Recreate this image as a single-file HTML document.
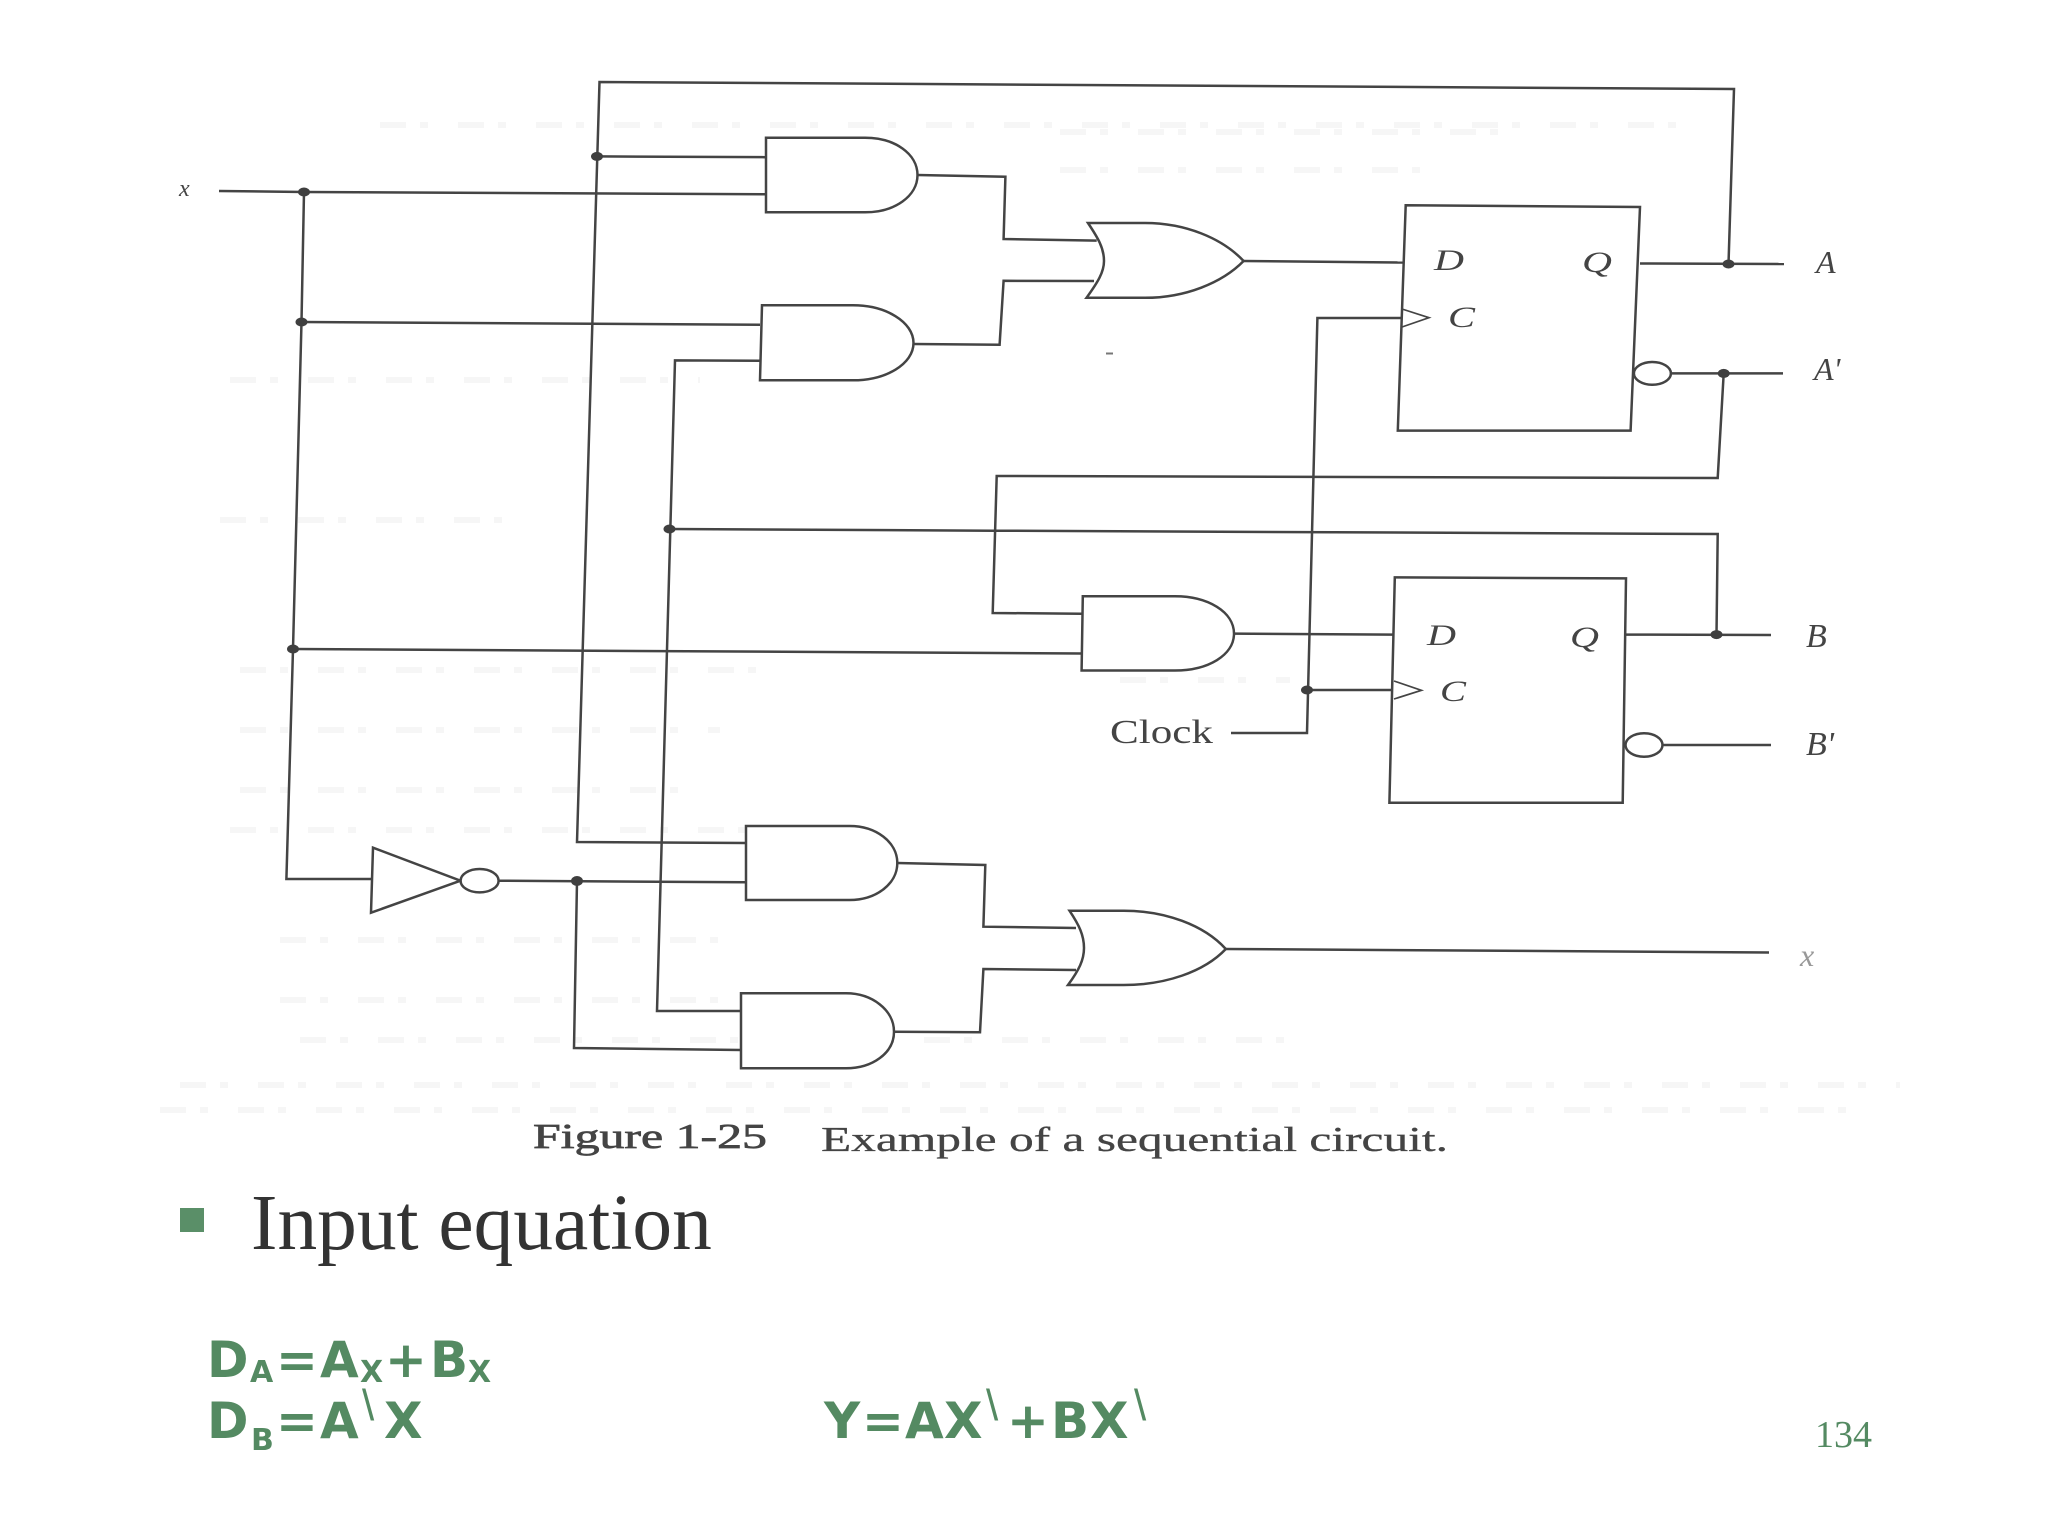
<!DOCTYPE html>
<html>
<head>
<meta charset="utf-8">
<style>
html,body{margin:0;padding:0;background:#fff;width:2048px;height:1536px;overflow:hidden}
svg{display:block}
.w{fill:none;stroke:#444;stroke-width:2.5;stroke-linejoin:miter}
.g{fill:#fff;stroke:#444;stroke-width:2.5;stroke-linejoin:miter}
.d{fill:#3f3f3f;stroke:none}
.s{fill:none;stroke:#f6f6f6;stroke-width:6;stroke-dasharray:26 14 8 30}
.l{font-family:"Liberation Serif",serif;font-style:italic;font-size:30px;fill:#444}
.c{font-family:"Liberation Serif",serif}
.e{font-family:"DejaVu Sans",sans-serif;font-weight:bold;font-size:50px;fill:#548a62}
.b{font-family:"DejaVu Sans",sans-serif;font-weight:bold;font-size:30px;fill:#548a62}
.k{font-family:"Liberation Sans",sans-serif;font-size:44px;fill:#548a62}
</style>
</head>
<body>
<svg width="2048" height="1536" viewBox="0 0 2048 1536" xmlns="http://www.w3.org/2000/svg">
<rect width="2048" height="1536" fill="#fff"/>
<!-- faint show-through -->
<path class="s" d="M380 125H1700M1060 132H1500M1060 170H1420M230 380H700M220 520H520M240 670H760M240 730H720M240 790H700M230 830H780M1120 680H1290M280 940H730M280 1000H760M300 1040H1300M180 1085H1900M160 1110H1850"/>

<!-- wires -->
<polyline class="w" points="1728.5,264 1734,89 599.5,82 577,842 746,843"/>
<polyline class="w" points="219,191 304,192 766,194.3"/>
<polyline class="w" points="596.6,156.4 766,157.2"/>
<polyline class="w" points="304,192 301.5,322 293,649 286.4,879 371,879"/>
<polyline class="w" points="301.5,322 760,324.8"/>
<polyline class="w" points="293,649 1081.6,653.5"/>
<polyline class="w" points="760,360.8 675,360.4 657,1011 741,1011"/>
<polyline class="w" points="669.5,529 994,530.7 1717.7,534 1716.5,634.6"/>
<polyline class="w" points="917.5,175 1005.4,176.7 1003.6,239 1096.7,240.6"/>
<polyline class="w" points="913.5,344 999.6,344.7 1003.6,280.8 1094,281"/>
<polyline class="w" points="1723.7,373.4 1717.7,478 996.7,476 992.7,613 1081.6,613.7"/>
<polyline class="w" points="1243.6,261 1403,262.5"/>
<polyline class="w" points="1234,633.6 1393,634.6"/>
<polyline class="w" points="1402,318 1317.4,318 1307,733 1231,733"/>
<polyline class="w" points="1307,690 1393,690"/>
<polyline class="w" points="1640,263.5 1784,264"/>
<polyline class="w" points="1672,373.4 1783,373.4"/>
<polyline class="w" points="1626,634.6 1771,635"/>
<polyline class="w" points="1662,745 1771,745"/>
<polyline class="w" points="498.7,880.7 746,882.3"/>
<polyline class="w" points="577,881 574,1048 741,1050"/>
<polyline class="w" points="897.3,863 985.3,865 983.4,926.7 1076,928"/>
<polyline class="w" points="894,1031.7 980,1032.3 983.4,969 1076,970"/>
<polyline class="w" points="1225.8,949 1769,952.5"/>

<!-- AND gates -->
<path class="g" d="M766 137.7H865C895 137.7 917.5 154 917.5 175S895 212.3 865 212.3H766Z"/>
<path class="g" d="M762 305.3H853C886 305.3 913.5 322 913.5 343S886 380.3 853 380.3H760Z"/>
<path class="g" d="M1082.8 596.3H1175C1208 596.3 1234 612 1234 633.6S1208 670.5 1175 670.5H1081.6Z"/>
<path class="g" d="M746 826H849.5C876 826 897.3 842 897.3 863S876 900 849.5 900H746Z"/>
<path class="g" d="M741 993.3H846C872 993.3 894 1010 894 1031.7S872 1068.3 846 1068.3H741Z"/>

<!-- OR gates -->
<path class="g" d="M1088 223H1145C1185 223 1222 238 1243.6 261C1222 283 1185 297.8 1145 297.8H1086.5C1098 282 1104 272 1104 261C1104 248 1098 238 1088 223Z"/>
<path class="g" d="M1069.5 910.7H1123.7C1165 910.7 1204 925 1225.8 949C1204 972 1165 985 1123.7 985H1068C1079 970 1084 960 1084 948C1084 935 1079 925 1069.5 910.7Z"/>

<!-- inverter -->
<polygon class="g" points="373,847.7 460.5,880.7 371,912.7"/>
<ellipse class="g" cx="479.6" cy="880.7" rx="19" ry="11.7"/>

<!-- flip flops -->
<polygon class="w" points="1405.7,205.3 1640,207 1630.6,430.6 1397.8,430.6"/>
<polygon class="w" points="1394.8,577.4 1626,578.4 1622.7,802.8 1389.4,802.8"/>
<polyline class="w" style="stroke-width:1.7" points="1402,309 1429,317.7 1402,327"/>
<polyline class="w" style="stroke-width:1.7" points="1394,681 1421.4,690.3 1394,699"/>
<ellipse class="g" cx="1652.4" cy="373.4" rx="18.5" ry="11.4"/>
<ellipse class="g" cx="1644" cy="745" rx="18.5" ry="11.8"/>

<!-- junction dots -->
<ellipse class="d" cx="304" cy="192" rx="6" ry="4.5"/>
<ellipse class="d" cx="301.5" cy="322" rx="6" ry="4.5"/>
<ellipse class="d" cx="293" cy="649" rx="6" ry="4.5"/>
<ellipse class="d" cx="597" cy="156.4" rx="6" ry="4.5"/>
<ellipse class="d" cx="669.5" cy="529" rx="6" ry="4.5"/>
<ellipse class="d" cx="577" cy="881" rx="6" ry="5"/>
<ellipse class="d" cx="1307" cy="690" rx="6" ry="4.5"/>
<ellipse class="d" cx="1728.5" cy="264" rx="6" ry="4.5"/>
<ellipse class="d" cx="1723.7" cy="373.4" rx="6" ry="4.5"/>
<ellipse class="d" cx="1716.5" cy="634.6" rx="6" ry="4.5"/>
<rect x="1106" y="352.5" width="7" height="2" fill="#777"/>

<!-- diagram labels -->
<text class="l" x="179" y="196" style="font-size:24px">x</text>
<text class="l" x="1434" y="270" textLength="30" lengthAdjust="spacingAndGlyphs">D</text>
<text class="l" x="1582" y="272" textLength="30" lengthAdjust="spacingAndGlyphs">Q</text>
<text class="l" x="1448" y="327" textLength="27" lengthAdjust="spacingAndGlyphs">C</text>
<text class="l" x="1816" y="273" style="font-size:32px">A</text>
<text class="l" x="1814" y="380" style="font-size:32px">A'</text>
<text class="l" x="1427" y="645" textLength="29" lengthAdjust="spacingAndGlyphs">D</text>
<text class="l" x="1570" y="647" textLength="29" lengthAdjust="spacingAndGlyphs">Q</text>
<text class="l" x="1440" y="701" textLength="26" lengthAdjust="spacingAndGlyphs">C</text>
<text class="l" x="1806" y="647" style="font-size:34px">B</text>
<text class="l" x="1806" y="755" style="font-size:34px">B'</text>
<text class="l" x="1800" y="966" style="font-size:32px;fill:#999">x</text>
<text class="c" x="1110" y="743" font-size="34" fill="#444" textLength="103" lengthAdjust="spacingAndGlyphs">Clock</text>

<!-- caption -->
<text class="c" x="533" y="1148" font-size="35" fill="#444" stroke="#444" stroke-width=".7" textLength="234" lengthAdjust="spacingAndGlyphs">Figure 1-25</text>
<text class="c" x="821" y="1151" font-size="35" fill="#444" stroke="#444" stroke-width=".3" textLength="627" lengthAdjust="spacingAndGlyphs">Example of a sequential circuit.</text>

<!-- bottom text -->
<rect x="180" y="1208" width="24" height="24" fill="#5a8f68"/>
<text class="c" x="251" y="1249" font-size="79.4" fill="#333">Input equation</text>

<text class="e" x="207 276 320 385 430" y="1377">D=A+B</text>
<text class="b" x="250" y="1382">A</text>
<text class="b" x="360" y="1382">X</text>
<text class="b" x="468" y="1382">X</text>

<text class="e" x="207 276 320 384" y="1438">D=AX</text>
<text class="b" x="251" y="1450">B</text>
<text class="k" x="362" y="1420">\</text>

<text class="e" x="824 862 905 944" y="1438">Y=AX</text>
<text class="k" x="986" y="1420">\</text>
<text class="e" x="1007 1051 1090" y="1438">+BX</text>
<text class="k" x="1134" y="1420">\</text>

<text class="c" x="1815" y="1447" font-size="38" fill="#548a62" textLength="57" lengthAdjust="spacingAndGlyphs">134</text>
</svg>
</body>
</html>
